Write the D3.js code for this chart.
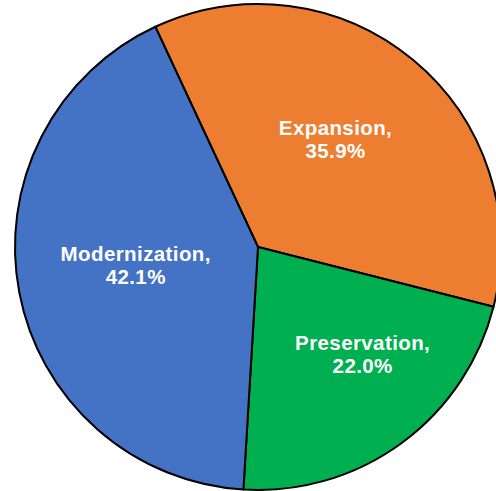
<!DOCTYPE html>
<html>
<head>
<meta charset="utf-8">
<script src="https://cdn.jsdelivr.net/npm/d3@7"></script>
<style>
  body { margin: 0; background: #fff; }
</style>
</head>
<body>
<div id="chart"></div>
<script>
// chart data
let categories = ["Expansion", "Preservation", "Modernization"];
let shares = [35.9, 22.0, 42.1];

// styles, kept apart from the data
let colors = ["#ED7D31", "#00B050", "#4472C4"];
// label placement: distance from centre and small angle nudge (degrees)
let labelPlace = [
  { r: 127, shift: -2 },
  { r: 155, shift: -6.3 },
  { r: 125, shift: -1.2 },
];

let width = 496,
  height = 491,
  radius = 243,
  cx = 258,
  cy = 247;

let svg = d3
  .select("#chart")
  .append("svg")
  .attr("width", width)
  .attr("height", height)
  .append("g")
  .attr("transform", "translate(" + cx + "," + cy + ")");

let data = categories.map((c, i) => ({ name: c, value: shares[i], idx: i }));

//start angle so the first slice begins a bit left of 12 o'clock
let start = (-25 * Math.PI) / 180;
let pie = d3
  .pie()
  .sort(null)
  .value((d) => d.value)
  .startAngle(start)
  .endAngle(start + 2 * Math.PI);

let arcs = pie(data);
let arc = d3.arc().innerRadius(0).outerRadius(radius);

svg
  .selectAll("path")
  .data(arcs)
  .enter()
  .append("path")
  .attr("d", arc)
  .attr("fill", (d) => colors[d.data.idx])
  .attr("stroke", "#000")
  .attr("stroke-width", 2)
  .attr("stroke-linejoin", "round");

// labels
let labels = svg
  .selectAll("text")
  .data(arcs)
  .enter()
  .append("text")
  .attr("transform", function (d) {
    let p = labelPlace[d.data.idx];
    let a = (d.startAngle + d.endAngle) / 2 + (p.shift * Math.PI) / 180;
    let x = p.r * Math.sin(a),
      y = -p.r * Math.cos(a);
    return "translate(" + x + "," + y + ")";
  })
  .attr("text-anchor", "middle")
  .style("font-family", "'Liberation Sans', Arial, sans-serif")
  .style("font-weight", "bold")
  .style("font-size", "20.5px")
  .style("letter-spacing", "0.4px")
  .style("fill", "#fff");

labels
  .append("tspan")
  .attr("x", 0)
  .attr("y", -11.5)
  .text((d) => d.data.name + ",");

labels
  .append("tspan")
  .attr("x", 0)
  .attr("y", 11.5)
  .text((d) => d.data.value.toFixed(1) + "%");
</script>
</body>
</html>
